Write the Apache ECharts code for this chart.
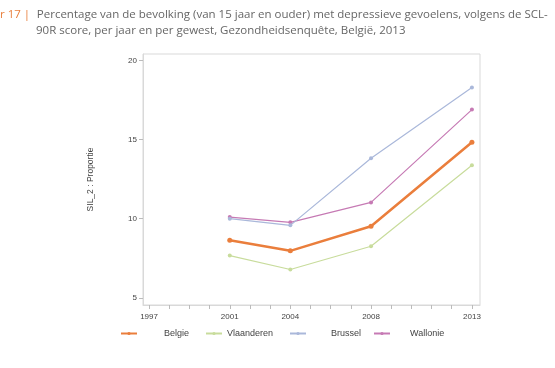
<!DOCTYPE html>
<html><head><meta charset="utf-8">
<script src="https://cdn.jsdelivr.net/npm/echarts@6/dist/echarts.min.js"></script>
<style>html,body{margin:0;padding:0;background:#fff}#c{width:555px;height:368px}</style>
</head><body><div id="c"></div>
<script>
const years = [2001, 2004, 2008, 2013];
const belgie = [8.64, 7.97, 9.52, 14.83];
const vlaanderen = [7.67, 6.79, 8.26, 13.38];
const brussel = [10.0, 9.58, 13.82, 18.29];
const wallonie = [10.1, 9.77, 11.03, 16.89];
const xLabelYears = [1997, 2001, 2004, 2008, 2013];
const xTickYears = [1997,1998,1999,2000,2001,2002,2003,2004,2005,2006,2007,2008,2009,2010,2011,2012,2013];
const yTicks = [5, 10, 15, 20];
const seriesNames = ['Belgie', 'Vlaanderen', 'Brussel', 'Wallonie'];
const colors = ['#ea7e3c', '#c8dc9c', '#aab8da', '#c67ab4'];
const widths = [2.5, 1.2, 1.2, 1.2];
const allData = [belgie, vlaanderen, brussel, wallonie];

const chart = echarts.init(document.getElementById('c'));
const legendPos = [
  {left: 115, pad: 22},
  {left: 200, pad: 0},
  {left: 284, pad: 20},
  {left: 368, pad: 15}
];
const option = {
  animation: false,
  grid: {left: 143, right: 75, top: 54, bottom: 63, show: true, borderColor: '#d9d9d9', borderWidth: 1},
  xAxis: {
    type: 'value', min: 1996.7, max: 2013.4,
    axisLine: {show: true, lineStyle: {color: '#d9d9d9'}},
    axisTick: {show: true, customValues: xTickYears, length: 4, lineStyle: {color: '#bbb'}},
    axisLabel: {customValues: xLabelYears, formatter: v => String(Math.round(v)), fontSize: 8, color: '#444', fontFamily: 'Liberation Sans', margin: 8},
    splitLine: {show: false}
  },
  yAxis: {
    type: 'value', min: 4.55, max: 20.4,
    name: 'SIL_2 : Proportie', nameLocation: 'middle', nameGap: 48, nameRotate: 90,
    nameTextStyle: {fontSize: 8.5, color: '#444', fontFamily: 'Liberation Sans'},
    axisLine: {show: true, lineStyle: {color: '#d9d9d9'}},
    axisTick: {show: true, customValues: yTicks, length: 4, lineStyle: {color: '#bbb'}},
    axisLabel: {customValues: yTicks, fontSize: 8, color: '#444', fontFamily: 'Liberation Sans', margin: 6},
    splitLine: {show: false}
  },
  legend: legendPos.map((p, i) => ({
    data: [seriesNames[i]], left: p.left, top: 324, itemWidth: 16, itemHeight: 4,
    textStyle: {fontSize: 9, color: '#444', fontFamily: 'Liberation Sans', padding: [0, 0, 0, p.pad]},
    selectedMode: false
  })),
  series: allData.map((d, i) => ({
    name: seriesNames[i], type: 'line',
    data: years.map((y, j) => [y, d[j]]),
    symbol: 'circle', symbolSize: i === 0 ? 5 : 4,
    itemStyle: {color: colors[i]},
    lineStyle: {color: colors[i], width: widths[i]},
    z: 10 - i
  })),
  graphic: [
    {type: 'text', left: 0, top: 9, style: {
      text: '{o|r 17 |}  {g|Percentage van de bevolking (van 15 jaar en ouder) met depressieve gevoelens, volgens de SCL-}',
      rich: {o: {fill: '#e8803f', fontSize: 11.5, fontFamily: 'Open Sans'}, g: {fill: '#666', fontSize: 11.5, fontFamily: 'Open Sans'}}
    }},
    {type: 'text', left: 36, top: 25, style: {
      text: '90R score, per jaar en per gewest, Gezondheidsenquête, België, 2013',
      fill: '#666', fontSize: 11.5, fontFamily: 'Open Sans'
    }}
  ]
};
chart.setOption(option);
</script></body></html>
